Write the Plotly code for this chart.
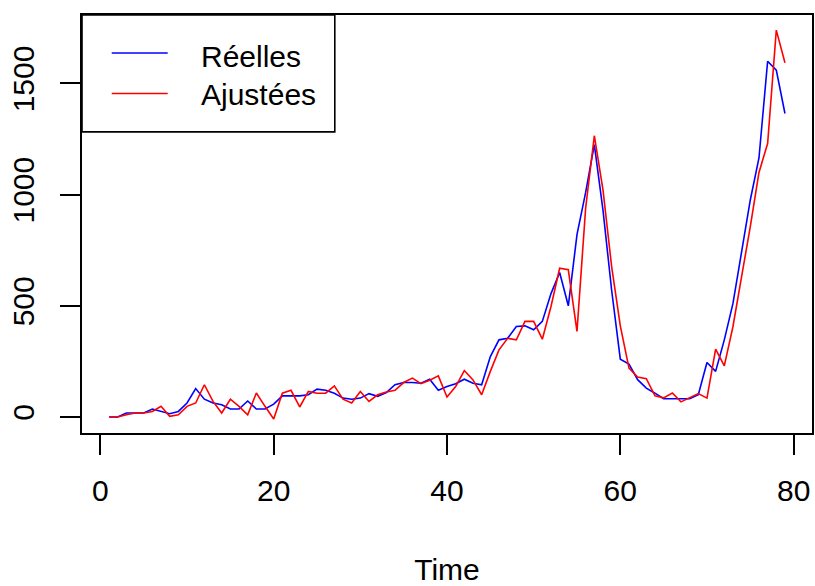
import plotly.graph_objects as go

time = list(range(1, 80))
reelles = [0, 0, 18, 18, 18, 36, 25, 15, 25, 63,
           128, 80, 63, 55, 36, 36, 72, 36, 36, 58,
           95, 95, 95, 100, 125, 120, 107, 85, 80, 85,
           105, 93, 110, 145, 155, 155, 152, 170, 120, 137,
           150, 170, 152, 145, 272, 347, 354, 407, 410, 392,
           430, 555, 650, 500, 820, 1010, 1225, 930, 570, 260,
           238, 168, 130, 107, 82, 82, 82, 82, 100, 245,
           205, 347, 511, 736, 976, 1165, 1600, 1560, 1365]
ajustees = [0, 0, 10, 18, 18, 25, 48, 3, 10, 48,
            63, 145, 70, 18, 80, 48, 10, 108, 48, -9,
            107, 120, 45, 115, 107, 107, 140, 80, 63, 115,
            70, 100, 112, 120, 155, 175, 150, 165, 185, 90,
            137, 209, 167, 100, 205, 302, 354, 347, 430, 430,
            350, 497, 669, 662, 385, 940, 1265, 1021, 676, 410,
            220, 180, 172, 95, 86, 108, 68, 86, 105, 85,
            305, 230, 407, 632, 856, 1100, 1230, 1740, 1593]
x_ticks = [0, 20, 40, 60, 80]
y_ticks = [0, 500, 1000, 1500]
legend_labels = ["Réelles", "Ajustées"]
colors = ["#0000FF", "#FF0000"]

FONT = "Liberation Sans, Arial, sans-serif"
FS = 30
LW = 1.6

fig = go.Figure()
fig.add_trace(go.Scatter(x=time, y=reelles, mode="lines", name=legend_labels[0],
                         line=dict(color=colors[0], width=1.6)))
fig.add_trace(go.Scatter(x=time, y=ajustees, mode="lines", name=legend_labels[1],
                         line=dict(color=colors[1], width=1.6)))

axis_common = dict(showgrid=False, zeroline=False, showline=True, mirror=True,
                   linecolor="black", linewidth=LW, ticks="outside", ticklen=20,
                   tickwidth=LW, tickcolor="black", automargin=False,
                   tickfont=dict(family=FONT, size=FS, color="black"))

fig.update_layout(
    width=815, height=586,
    margin=dict(l=82, r=3, t=15, b=153, pad=0),
    paper_bgcolor="white", plot_bgcolor="white",
    showlegend=False,
    font=dict(family=FONT, size=FS, color="black"),
    xaxis=dict(range=[-2.12, 82.12], tickvals=x_ticks, ticklabelstandoff=10,
               title=dict(text="Time", font=dict(family=FONT, size=FS, color="black"), standoff=58),
               **axis_common),
    yaxis=dict(range=[-72, 1808], tickvals=y_ticks, tickangle=-90, ticklabelstandoff=14,
               **axis_common),
    hovermode=False,
)

# legend box drawn in paper coordinates
leg_x1 = 0.3463
leg_y0 = 0.7205
fig.add_shape(type="rect", xref="paper", yref="paper", x0=0, x1=leg_x1, y0=leg_y0, y1=1,
              line=dict(color="black", width=LW), fillcolor="white", layer="above")
line_ys = [0.9092, 0.8122]
text_ys = [0.9017, 0.8101]
for lab, col, ly, ty in zip(legend_labels, colors, line_ys, text_ys):
    fig.add_shape(type="line", xref="paper", yref="paper", x0=0.0407, x1=0.1174, y0=ly, y1=ly,
                  line=dict(color=col, width=1.6), layer="above")
    fig.add_annotation(xref="paper", yref="paper", x=0.1616, y=ty, xanchor="left", yanchor="middle",
                       text=lab, showarrow=False, borderpad=0,
                       font=dict(family=FONT, size=FS, color="black"))

fig.write_html("out.html", config={"displayModeBar": False})
